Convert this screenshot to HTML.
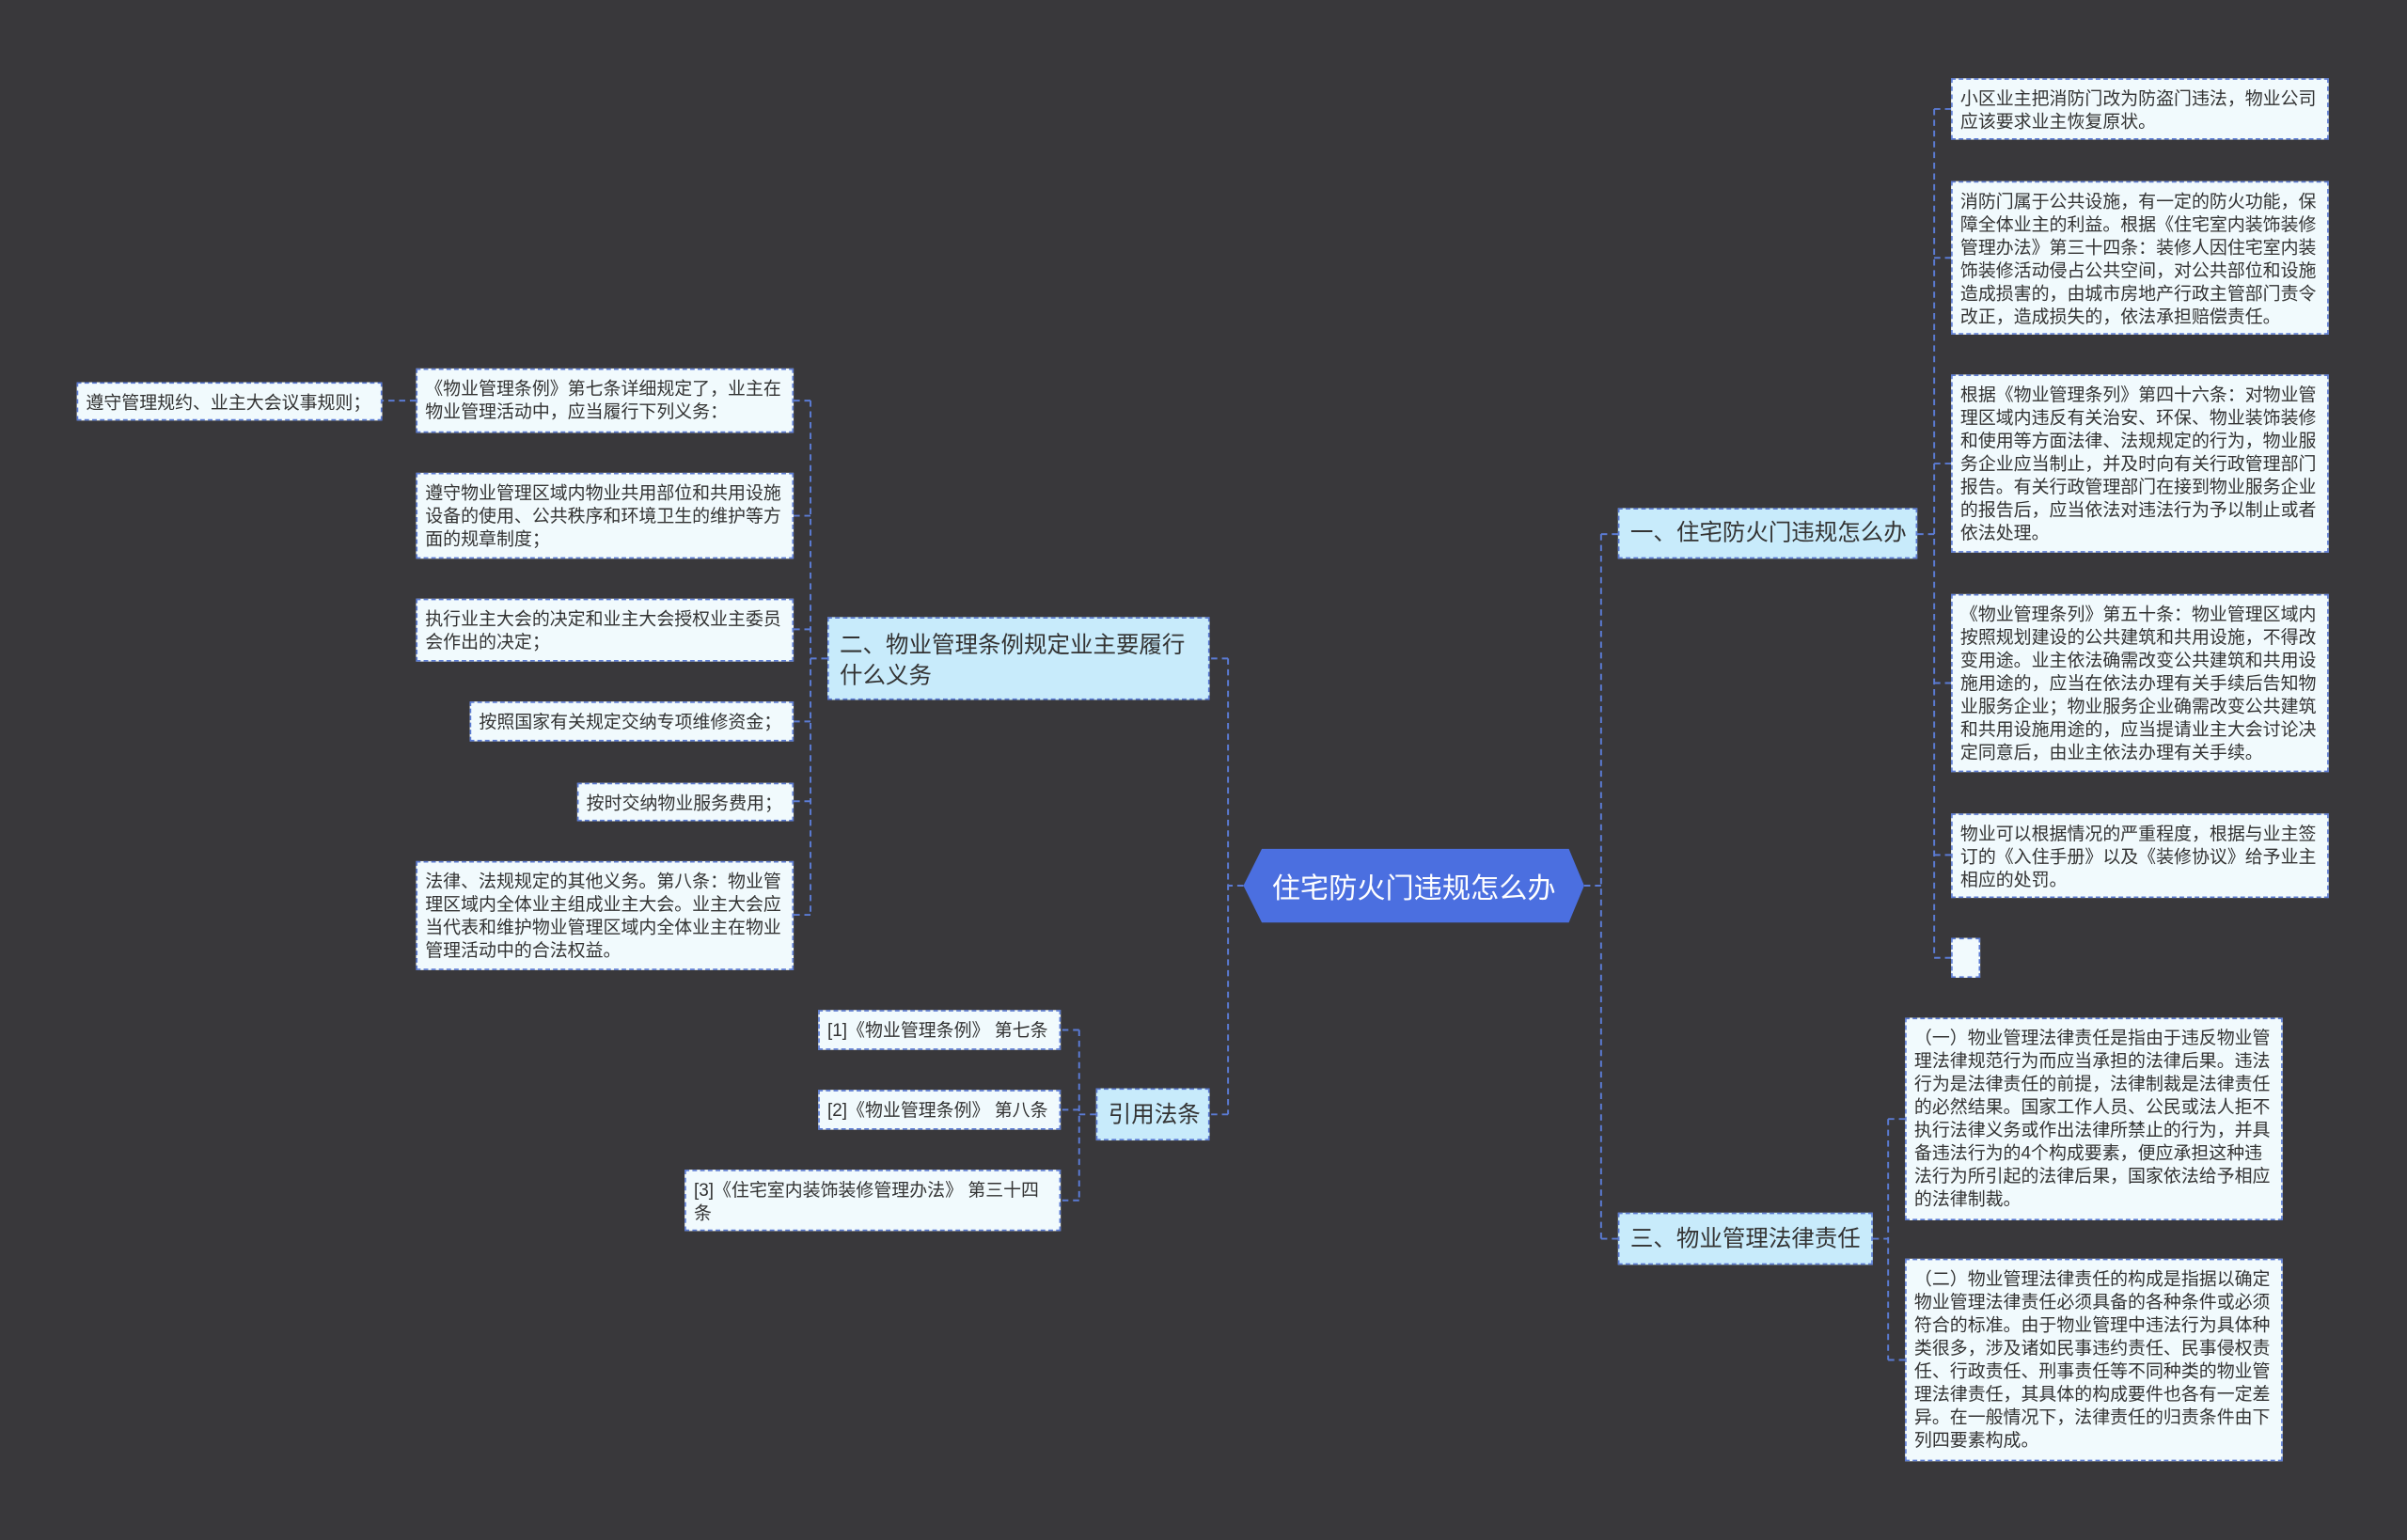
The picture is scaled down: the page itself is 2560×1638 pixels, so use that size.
<!DOCTYPE html>
<html><head><meta charset="utf-8"><style>
html,body{margin:0;padding:0;background:#39383b;width:2560px;height:1638px;overflow:hidden}
#w{position:absolute;left:0;top:0;width:1568px;height:1003px;transform:scale(1.63265);transform-origin:0 0;font-family:"Liberation Sans","Noto Sans CJK SC",sans-serif}
.l{position:absolute;background:#f1fafd;border:1px dashed #5b7bd4;color:#333;font-size:11.6px;line-height:15px;padding:5px 5px 4px;box-sizing:border-box;white-space:nowrap;overflow:hidden}
.b{position:absolute;background:#c8ebfb;border:1px dashed #5b7bd4;color:#333;font-size:15px;line-height:20px;padding:7px 7px;box-sizing:border-box;white-space:nowrap}
svg{position:absolute;left:0;top:0}
</style></head><body><div id="w">
<svg width="1568" height="1003"><g stroke="#5b7bd4" stroke-width="1.2" stroke-dasharray="4,3" fill="none">
<path d="M1032 577H1043M1043 348V807M1043 348H1054M1043 807H1054"/>
<path d="M1249 348H1260M1260 71V624M1260 71H1271M1260 168H1271M1260 302H1271M1260 445H1271M1260 557H1271M1260 624H1271"/>
<path d="M1220 807H1230M1230 729V886M1230 729H1241M1230 886H1241"/>
<path d="M810 577H800M800 429V726M800 429H788M800 726H788"/>
<path d="M539 429H528M528 261V596M528 261H517M528 336H517M528 410H517M528 470H517M528 522H517M528 596H517M271 261H249"/>
<path d="M714 726H703M703 671V782M703 671H691M703 723H691M703 782H691"/>
</g></svg>
<svg width="1568" height="1003"><polygon points="822,553 1022,553 1032,577 1022,601 822,601 810,577" fill="#4b6fe0"/><text x="921" y="585" fill="#fff" font-size="18.5" text-anchor="middle" font-family="Liberation Sans,Noto Sans CJK SC,sans-serif">住宅防火门违规怎么办</text></svg>

<div class="b" style="left:1054px;top:331px;width:195px;height:33px;padding-top:6px">一、住宅防火门违规怎么办</div>
<div class="b" style="left:1054px;top:790px;width:166px;height:34px;padding-top:7px">三、物业管理法律责任</div>
<div class="b" style="left:539px;top:402px;width:249px;height:54px;padding-top:8px">二、物业管理条例规定业主要履行<br>什么义务</div>
<div class="b" style="left:714px;top:709px;width:74px;height:34px">引用法条</div>

<div class="l" style="left:1271px;top:51px;width:246px;height:40px">小区业主把消防门改为防盗门违法，物业公司<br>应该要求业主恢复原状。</div>
<div class="l" style="left:1271px;top:118px;width:246px;height:100px">消防门属于公共设施，有一定的防火功能，保<br>障全体业主的利益。根据《住宅室内装饰装修<br>管理办法》第三十四条：装修人因住宅室内装<br>饰装修活动侵占公共空间，对公共部位和设施<br>造成损害的，由城市房地产行政主管部门责令<br>改正，造成损失的，依法承担赔偿责任。</div>
<div class="l" style="left:1271px;top:244px;width:246px;height:116px">根据《物业管理条列》第四十六条：对物业管<br>理区域内违反有关治安、环保、物业装饰装修<br>和使用等方面法律、法规规定的行为，物业服<br>务企业应当制止，并及时向有关行政管理部门<br>报告。有关行政管理部门在接到物业服务企业<br>的报告后，应当依法对违法行为予以制止或者<br>依法处理。</div>
<div class="l" style="left:1271px;top:387px;width:246px;height:116px">《物业管理条列》第五十条：物业管理区域内<br>按照规划建设的公共建筑和共用设施，不得改<br>变用途。业主依法确需改变公共建筑和共用设<br>施用途的，应当在依法办理有关手续后告知物<br>业服务企业；物业服务企业确需改变公共建筑<br>和共用设施用途的，应当提请业主大会讨论决<br>定同意后，由业主依法办理有关手续。</div>
<div class="l" style="left:1271px;top:530px;width:246px;height:55px">物业可以根据情况的严重程度，根据与业主签<br>订的《入住手册》以及《装修协议》给予业主<br>相应的处罚。</div>
<div class="l" style="left:1271px;top:611px;width:19px;height:26px"></div>
<div class="l" style="left:1241px;top:663px;width:246px;height:132px">（一）物业管理法律责任是指由于违反物业管<br>理法律规范行为而应当承担的法律后果。违法<br>行为是法律责任的前提，法律制裁是法律责任<br>的必然结果。国家工作人员、公民或法人拒不<br>执行法律义务或作出法律所禁止的行为，并具<br>备违法行为的4个构成要素，便应承担这种违<br>法行为所引起的法律后果，国家依法给予相应<br>的法律制裁。</div>
<div class="l" style="left:1241px;top:820px;width:246px;height:132px">（二）物业管理法律责任的构成是指据以确定<br>物业管理法律责任必须具备的各种条件或必须<br>符合的标准。由于物业管理中违法行为具体种<br>类很多，涉及诸如民事违约责任、民事侵权责<br>任、行政责任、刑事责任等不同种类的物业管<br>理法律责任，其具体的构成要件也各有一定差<br>异。在一般情况下，法律责任的归责条件由下<br>列四要素构成。</div>

<div class="l" style="left:50px;top:249px;width:199px;height:25px">遵守管理规约、业主大会议事规则；</div>
<div class="l" style="left:271px;top:240px;width:246px;height:42px">《物业管理条例》第七条详细规定了，业主在<br>物业管理活动中，应当履行下列义务：</div>
<div class="l" style="left:271px;top:308px;width:246px;height:56px">遵守物业管理区域内物业共用部位和共用设施<br>设备的使用、公共秩序和环境卫生的维护等方<br>面的规章制度；</div>
<div class="l" style="left:271px;top:390px;width:246px;height:41px">执行业主大会的决定和业主大会授权业主委员<br>会作出的决定；</div>
<div class="l" style="left:306px;top:457px;width:211px;height:26px">按照国家有关规定交纳专项维修资金；</div>
<div class="l" style="left:376px;top:510px;width:141px;height:25px">按时交纳物业服务费用；</div>
<div class="l" style="left:271px;top:561px;width:246px;height:71px">法律、法规规定的其他义务。第八条：物业管<br>理区域内全体业主组成业主大会。业主大会应<br>当代表和维护物业管理区域内全体业主在物业<br>管理活动中的合法权益。</div>
<div class="l" style="left:533px;top:658px;width:158px;height:26px">[1]《物业管理条例》 第七条</div>
<div class="l" style="left:533px;top:710px;width:158px;height:26px">[2]《物业管理条例》 第八条</div>
<div class="l" style="left:446px;top:762px;width:245px;height:40px">[3]《住宅室内装饰装修管理办法》 第三十四<br>条</div>
</div></body></html>
